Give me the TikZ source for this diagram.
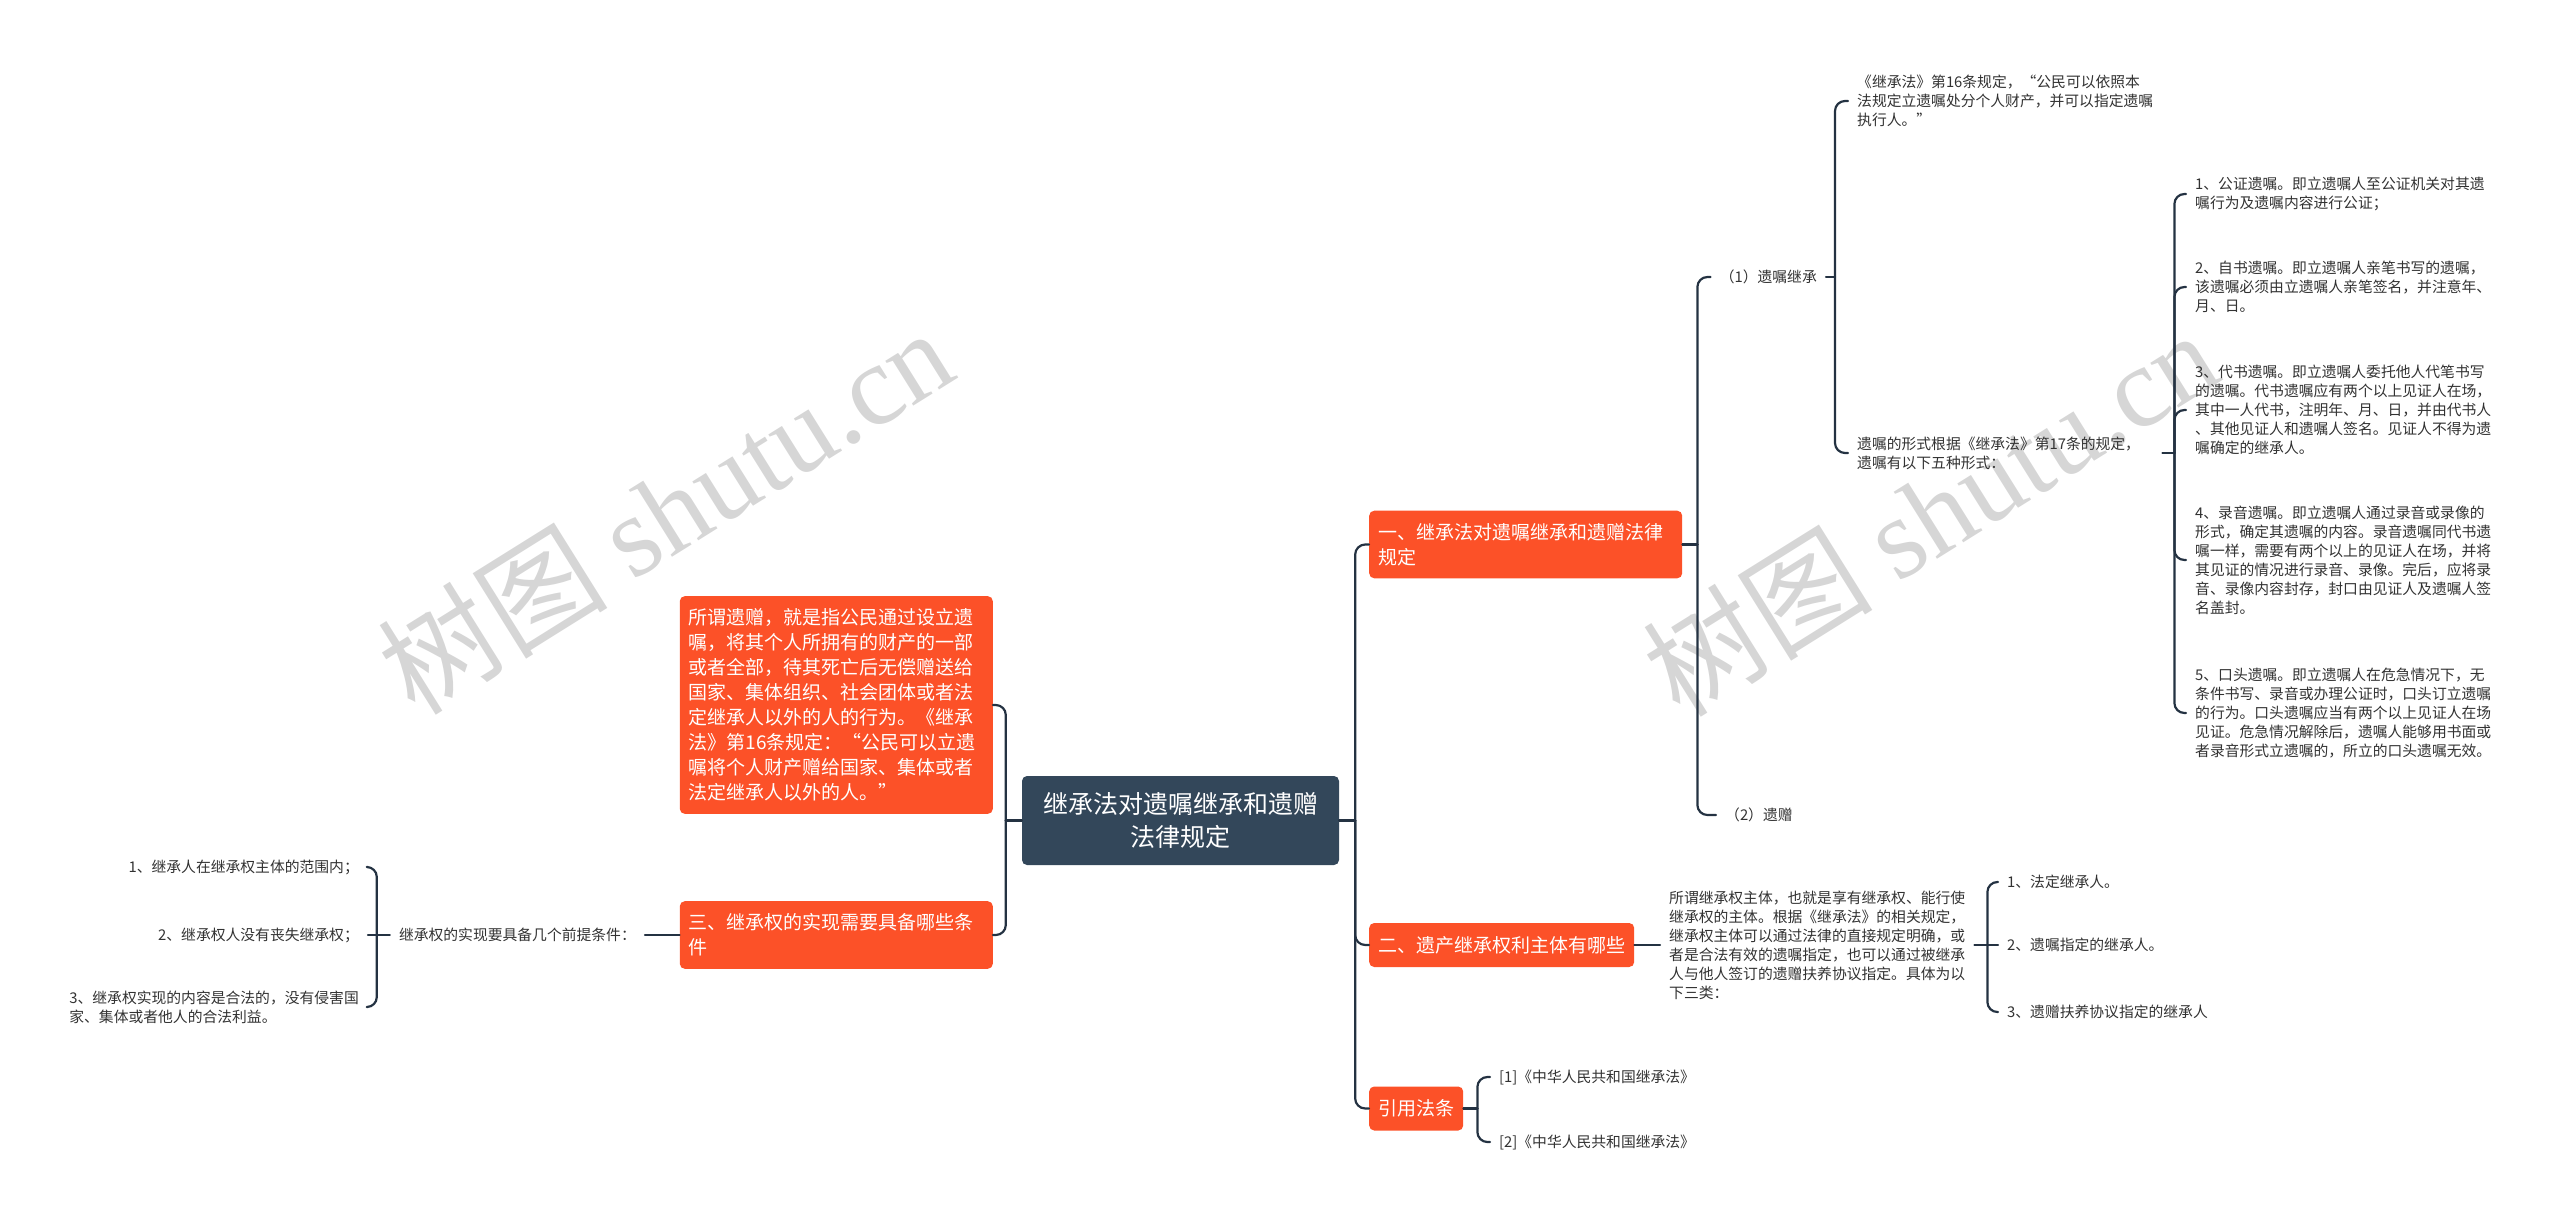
\documentclass[tikz,border=0pt]{standalone}
\usepackage{fontspec}
\setmainfont{Noto Sans CJK SC}
\newfontfamily\wmfont{Liberation Serif}

\begin{document}
\begin{tikzpicture}[x=1pt,y=-1pt,line cap=round,line join=round]

% Colors
\definecolor{rootblue}{RGB}{51,71,90}
\definecolor{topicred}{RGB}{252,81,40}
\definecolor{linkblue}{RGB}{36,50,66}
\definecolor{leafgray}{RGB}{50,50,50}
\definecolor{markgray}{RGB}{214,214,214}

% Styles
\tikzset{
  rootbox/.style={fill=rootblue,text=white,rounded corners=5pt,align=center,
    font=\fontsize{25}{33}\selectfont,minimum width=317pt,minimum height=89pt,inner sep=0pt},
  topicbox/.style={fill=topicred,text=white,rounded corners=5pt,align=left,
    font=\fontsize{19}{25}\selectfont,inner xsep=9pt,inner ysep=12.5pt,minimum height=44pt,anchor=west},
  leaf/.style={text=leafgray,align=left,font=\fontsize{14.8}{19}\selectfont,inner xsep=9pt,inner ysep=2pt},
  link/.style={draw=linkblue,line width=2.2pt,rounded corners=10pt},
  wmtext/.style={text=markgray,font=\fontsize{115}{115}\selectfont,rotate=32}
}

\useasboundingbox (0,0) rectangle (2560,1221);

% Watermarks
\node[wmtext] (wm1) at (665,510) {树图 {\wmfont shutu.cn}};
\node[wmtext] (wm2) at (1930,512) {树图 {\wmfont shutu.cn}};

% Root
\node[rootbox] (root) at (1180.5,820.5) {继承法对遗嘱继承和遗赠\\法律规定};

% Right topics
\node[topicbox,text width=295pt] (one) at (1369,544.5) {一、继承法对遗嘱继承和遗赠法律\\规定};
\node[topicbox] (two) at (1369,945) {二、遗产继承权利主体有哪些};
\node[topicbox] (cite) at (1369,1108.5) {引用法条};

% Left topics
\node[topicbox,text width=295pt,anchor=east] (gift) at (993,705) {所谓遗赠，就是指公民通过设立遗\\
嘱，将其个人所拥有的财产的一部\\
或者全部，待其死亡后无偿赠送给\\
国家、集体组织、社会团体或者法\\
定继承人以外的人的行为。《继承\\
法》第16条规定：“公民可以立遗\\
嘱将个人财产赠给国家、集体或者\\
法定继承人以外的人。”};
\node[topicbox,text width=295pt,anchor=east] (three) at (993,935) {三、继承权的实现需要具备哪些条\\件};

% Leaves of topic one
\node[leaf,anchor=east] (will) at (1826,277) {（1）遗嘱继承};
\node[leaf,anchor=west] (bequest) at (1716,815) {（2）遗赠};
\node[leaf,anchor=west,text width=296pt] (art16) at (1848,101) {《继承法》第16条规定，“公民可以依照本\\法规定立遗嘱处分个人财产，并可以指定遗嘱\\执行人。”};
\node[leaf,anchor=west,text width=296pt] (forms) at (1848,453) {遗嘱的形式根据《继承法》第17条的规定，\\遗嘱有以下五种形式：};

% Five forms
\node[leaf,anchor=west,text width=296pt] (form1) at (2186,194) {1、公证遗嘱。即立遗嘱人至公证机关对其遗\\嘱行为及遗嘱内容进行公证；};
\node[leaf,anchor=west,text width=296pt] (form2) at (2186,287) {2、自书遗嘱。即立遗嘱人亲笔书写的遗嘱，\\该遗嘱必须由立遗嘱人亲笔签名，并注意年、\\月、日。};
\node[leaf,anchor=west,text width=296pt] (form3) at (2186,410) {3、代书遗嘱。即立遗嘱人委托他人代笔书写\\的遗嘱。代书遗嘱应有两个以上见证人在场，\\其中一人代书，注明年、月、日，并由代书人\\、其他见证人和遗嘱人签名。见证人不得为遗\\嘱确定的继承人。};
\node[leaf,anchor=west,text width=296pt] (form4) at (2186,560) {4、录音遗嘱。即立遗嘱人通过录音或录像的\\形式，确定其遗嘱的内容。录音遗嘱同代书遗\\嘱一样，需要有两个以上的见证人在场，并将\\其见证的情况进行录音、录像。完后，应将录\\音、录像内容封存，封口由见证人及遗嘱人签\\名盖封。};
\node[leaf,anchor=west,text width=296pt] (form5) at (2186,713) {5、口头遗嘱。即立遗嘱人在危急情况下，无\\条件书写、录音或办理公证时，口头订立遗嘱\\的行为。口头遗嘱应当有两个以上见证人在场\\见证。危急情况解除后，遗嘱人能够用书面或\\者录音形式立遗嘱的，所立的口头遗嘱无效。};

% Leaves of topic two
\node[leaf,anchor=west,text width=296pt] (subject) at (1660,945) {所谓继承权主体，也就是享有继承权、能行使\\继承权的主体。根据《继承法》的相关规定，\\继承权主体可以通过法律的直接规定明确，或\\者是合法有效的遗嘱指定，也可以通过被继承\\人与他人签订的遗赠扶养协议指定。具体为以\\下三类：};
\node[leaf,anchor=west] (heir1) at (1998,882) {1、法定继承人。};
\node[leaf,anchor=west] (heir2) at (1998,945) {2、遗嘱指定的继承人。};
\node[leaf,anchor=west] (heir3) at (1998,1012) {3、遗赠扶养协议指定的继承人};

% Leaves of cite
\node[leaf,anchor=west] (law1) at (1490,1077) {[1]《中华人民共和国继承法》};
\node[leaf,anchor=west] (law2) at (1490,1142) {[2]《中华人民共和国继承法》};

% Leaves of topic three
\node[leaf,anchor=east] (premise) at (645,935) {继承权的实现要具备几个前提条件：};
\node[leaf,anchor=east] (cond1) at (368,867) {1、继承人在继承权主体的范围内；};
\node[leaf,anchor=east] (cond2) at (368,935) {2、继承权人没有丧失继承权；};
\node[leaf,anchor=east] (cond3) at (368,1007) {3、继承权实现的内容是合法的，没有侵害国\\家、集体或者他人的合法利益。};

% Junctions
\coordinate (rootR) at ([xshift=16pt]root.east);
\coordinate (rootL) at ([xshift=-16pt]root.west);
\coordinate (oneJ) at ([xshift=15pt]one.east);
\coordinate (willJ) at ([xshift=9pt]will.east);
\coordinate (formsJ) at ([xshift=12pt]forms.east);
\coordinate (subjJ) at ([xshift=13pt]subject.east);
\coordinate (citeJ) at ([xshift=14pt]cite.east);
\coordinate (premJ) at ([xshift=-13pt]premise.west);

% Root connectors
\draw[link] (root.east) -- (rootR);
\foreach \t in {one,two,cite} {
  \draw[link] (rootR) |- (\t.west);
}
\draw[link] (root.west) -- (rootL);
\foreach \t in {gift,three} {
  \draw[link] (rootL) |- (\t.east);
}

% Topic one
\draw[link] (one.east) -- (oneJ);
\foreach \t in {will,bequest} {
  \draw[link] (oneJ) |- (\t.west);
}
\draw[link] (will.east) -- (willJ);
\foreach \t in {art16,forms} {
  \draw[link] (willJ) |- (\t.west);
}
\draw[link] (forms.east) -- (formsJ);
\foreach \t in {form1,form2,form3,form4,form5} {
  \draw[link] (formsJ) |- (\t.west);
}

% Topic two
\draw[link] (two.east) -- (subject.west);
\draw[link] (subject.east) -- (subjJ);
\draw[link] (subjJ) |- (heir1.west);
\draw[link] (subjJ) -- (heir2.west);
\draw[link] (subjJ) |- (heir3.west);

% Cite
\draw[link] (cite.east) -- (citeJ);
\foreach \t in {law1,law2} {
  \draw[link] (citeJ) |- (\t.west);
}

% Topic three
\draw[link] (three.west) -- (premise.east);
\draw[link] (premise.west) -- (premJ);
\draw[link] (premJ) |- (cond1.east);
\draw[link] (premJ) -- (cond2.east);
\draw[link] (premJ) |- (cond3.east);

\end{tikzpicture}
\end{document}
